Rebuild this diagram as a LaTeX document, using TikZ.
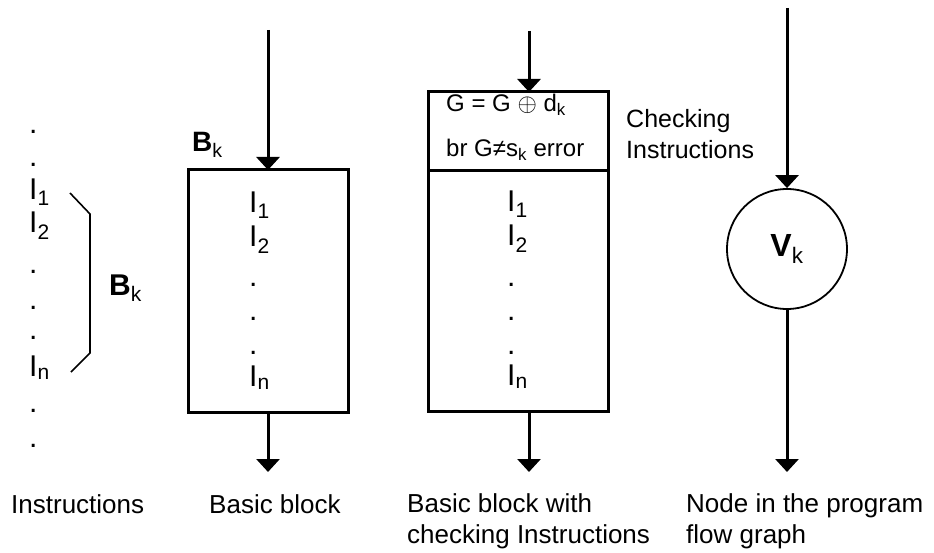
\documentclass[tikz,border=0pt]{standalone}
\usepackage{fontspec}
\setmainfont{Liberation Sans}
\usetikzlibrary{positioning, arrows.meta}

\begin{document}
\begin{tikzpicture}[
            x=1pt, y=-1pt,
            flow/.style={draw, line width=3pt, -{Triangle[width=23pt, length=13pt]}},
            blockbox/.style={draw, line width=3pt, inner sep=0pt, outer sep=0pt},
            instr/.style={anchor=base west, inner sep=0pt, font=\fontsize{30}{36}\selectfont},
            bigname/.style={anchor=base west, inner sep=0pt, font=\fontsize{30}{36}\selectfont\bfseries},
            checktext/.style={anchor=base west, inner sep=0pt, font=\fontsize{24}{28}\selectfont},
            caption/.style={anchor=base west, inner sep=0pt, align=left, font=\fontsize{26}{31}\selectfont},
        ]
            \useasboundingbox (0,0) rectangle (934,553);

            % sequence of instructions
            \foreach \y [count=\i] in {134,167,274,309,339,412,447}
                \node[instr] (seqdot\i) at (29,\y) {.};
            \node[instr] (seqfirst) at (29,200) {I\textsubscript{1}};
            \node[instr] (seqsecond) at (29,233) {I\textsubscript{2}};
            \node[instr] (seqlast) at (29,376) {I\textsubscript{n}};
            \draw[line width=1.6pt] (70,193) -- (90,214) -- (90,353) -- (71,372);
            \node[bigname] (seqname) at (109,295) {B\textsubscript{\mdseries k}};

            % basic block
            \node[blockbox, minimum width=160pt, minimum height=242pt] (block) at (268,291) {};
            \node[bigname, font=\fontsize{28}{34}\selectfont\bfseries] (blockname) at (192,152) {B\textsubscript{\mdseries k}};
            \node[instr] (blockfirst) at (249,213) {I\textsubscript{1}};
            \node[instr] (blocksecond) at (249,247) {I\textsubscript{2}};
            \foreach \y [count=\i] in {287,320,354}
                \node[instr] (blockdot\i) at (249,\y) {.};
            \node[instr] (blocklast) at (249,386) {I\textsubscript{n}};
            \coordinate (blockin) at (268,30);
            \coordinate (blockout) at (268,472);
            \draw[flow] (blockin) -- (block.north);
            \draw[flow] (block.south) -- (blockout);

            % basic block with checking instructions
            \node[blockbox, minimum width=180pt, minimum height=79pt] (check) at (518,131.5) {};
            \node[blockbox, minimum width=180pt, minimum height=240pt, below=0pt of check] (body) {};
            \node[checktext] (xorline) at (446,112) {G = G $\oplus$ d\textsubscript{k}};
            \node[checktext] (branchline) at (446,157) {br G≠s\textsubscript{k} error};
            \node[caption, font=\fontsize{25}{31}\selectfont] (checkname) at (626,159) {Checking\\Instructions};
            \node[instr] (bodyfirst) at (507,212) {I\textsubscript{1}};
            \node[instr] (bodysecond) at (507,246) {I\textsubscript{2}};
            \foreach \y [count=\i] in {287,320,354}
                \node[instr] (bodydot\i) at (507,\y) {.};
            \node[instr] (bodylast) at (507,385) {I\textsubscript{n}};
            \coordinate (checkin) at (529,31);
            \coordinate (bodyout) at (529,472);
            \draw[flow] (checkin) -- (checkin |- check.north);
            \draw[flow] (bodyout |- body.south) -- (bodyout);

            % node of the flow graph
            \node[circle, draw, line width=1.8pt, minimum size=120pt, inner sep=0pt,
                font=\fontsize{32}{38}\selectfont\bfseries] (vertex) at (787,249) {V\textsubscript{\mdseries k}};
            \coordinate (vertexin) at (787,8);
            \coordinate (vertexout) at (787,472);
            \draw[flow] (vertexin) -- (vertex.north);
            \draw[flow] (vertex.south) -- (vertexout);

            % captions
            \node[caption] (seqcaption) at (11,513) {Instructions};
            \node[caption] (blockcaption) at (209,513) {Basic block};
            \node[caption] (bodycaption) at (407,543) {Basic block with\\checking Instructions};
            \node[caption] (vertexcaption) at (686,543) {Node in the program\\flow graph};
        \end{tikzpicture}
\end{document}
